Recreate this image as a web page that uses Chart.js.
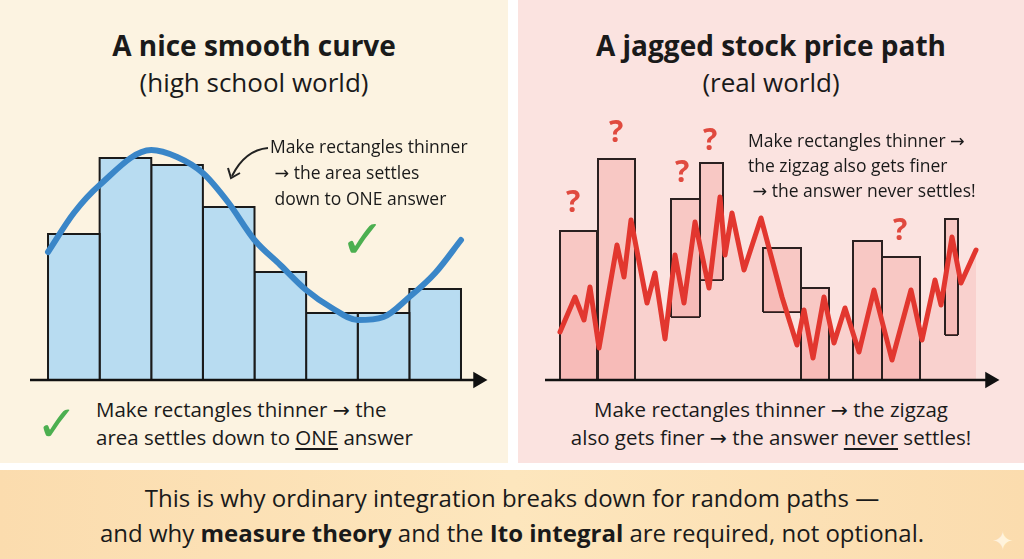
<!DOCTYPE html>
<html><head><meta charset="utf-8">
<script src="https://cdn.jsdelivr.net/npm/chart.js@4/dist/chart.umd.min.js"></script>
<style>
body{margin:0;width:1024px;height:559px;position:relative;overflow:hidden;background:#fff;font-family:"Open Sans","DejaVu Sans",sans-serif;color:#1a1a1a}
.p{position:absolute}
.t{position:absolute;white-space:nowrap}
canvas{position:absolute}
u{text-decoration-thickness:2px;text-underline-offset:3px}
</style></head><body>
<div class="p" style="left:0;top:0;width:508px;height:463px;background:#fcf3e1"></div>
<div class="p" style="left:518px;top:0;width:506px;height:463px;background:#fbe3e0"></div>
<div class="p" style="left:0;top:470px;width:1024px;height:89px;background:linear-gradient(90deg,#fbdcae,#fde6bd,#fbdcae)"></div>

<div class="t" style="left:0;width:508px;text-align:center;top:26px;font-size:28px;font-weight:700">A nice smooth curve</div>
<div class="t" style="left:0;width:508px;text-align:center;top:64px;font-size:26px">(high school world)</div>
<div class="t" style="left:518px;width:506px;text-align:center;top:26px;font-size:28px;font-weight:700">A jagged stock price path</div>
<div class="t" style="left:518px;width:506px;text-align:center;top:64px;font-size:26px">(real world)</div>

<canvas id="c1" width="460" height="262" style="left:30px;top:130px;width:460px;height:262px"></canvas>
<canvas id="c2" width="460" height="262" style="left:540px;top:130px;width:460px;height:262px"></canvas>

<div class="t" style="left:270px;top:133px;font-size:17.5px;line-height:26px">Make rectangles thinner<br>&nbsp;→ the area settles<br>&nbsp;down to ONE answer</div>
<svg class="p" style="left:220px;top:140px" width="60" height="50"><path d="M48 8 Q25 10 12 36" stroke="#222" stroke-width="2" fill="none"/><path d="M8 28 L11 38 L20 33" stroke="#222" stroke-width="2" fill="none"/></svg>
<div class="t" style="left:340px;top:208px;font-size:54px;color:#4caf50;font-weight:700;font-family:'DejaVu Sans'">✓</div>
<div class="t" style="left:36px;top:395px;font-size:50px;color:#4caf50;font-weight:700;font-family:'DejaVu Sans'">✓</div>
<div class="t" style="left:96px;top:395px;font-size:20.5px;line-height:28px">Make rectangles thinner → the<br>area settles down to <u>ONE</u> answer</div>

<div class="t" style="left:748px;top:128px;font-size:17.5px;line-height:25px">Make rectangles thinner →<br>the zigzag also gets finer<br>&nbsp;→ the answer never settles!</div>
<div class="t" style="left:518px;width:506px;text-align:center;top:395px;font-size:20.5px;line-height:28px">Make rectangles thinner → the zigzag<br>also gets finer → the answer <u>never</u> settles!</div>
<div class="t" style="left:566px;top:180px;font-size:30px;color:#e04a3f;font-weight:700">?</div>
<div class="t" style="left:609px;top:110px;font-size:30px;color:#e04a3f;font-weight:700">?</div>
<div class="t" style="left:675px;top:150px;font-size:30px;color:#e04a3f;font-weight:700">?</div>
<div class="t" style="left:703px;top:118px;font-size:30px;color:#e04a3f;font-weight:700">?</div>
<div class="t" style="left:893px;top:208px;font-size:30px;color:#e04a3f;font-weight:700">?</div>

<div class="t" style="left:0;width:1024px;text-align:center;top:480px;font-size:24px;line-height:35px">This is why ordinary integration breaks down for random paths —<br>and why <b>measure theory</b> and the <b>Ito integral</b> are required, not optional.</div>
<div class="t" style="left:992px;top:522px;font-size:26px;color:#fff3dc">✦</div>

<script>
// Left: smooth curve & Riemann rectangles (x in rectangle units, y = height)
const leftBarHeights = [146, 222, 215, 173, 108, 67, 67, 91];
const curveX = [0, 0.5, 1, 2, 2.5, 3, 3.5, 4, 4.5, 5, 5.5, 6, 6.5, 7, 7.5, 8];
const curveY = [128, 167, 195, 230, 223, 207, 177, 140, 115, 90, 72, 60, 63, 83, 107, 140];
// Right: jagged path and rectangles [x0, x1, low, high]
const pathX = [0,15,24,30,39,57,64,71,87,95,105,115,124,135,149,160,165,172,184,201,222,237,244,253,264,274,285,299,314,332,351,362,375,381,392,401,416];
const pathY = [48,83,60,93,32,135,103,160,77,107,41,125,77,158,92,183,125,167,110,162,83,35,70,22,83,37,72,28,90,20,90,40,100,75,143,97,130];
const rightRects = [[0,37,0,149],[38,75,0,221],[111,140,63,181],[140,163,100,217],[203,241,68,132],[241,269,0,92],[293,322,0,139],[322,360,0,123],[385,398,45,161]];

function rectDs(x0,x1,lo,hi,fillC,border){
  const out=[{type:'scatter',showLine:true,data:[{x:x0,y:lo},{x:x0,y:hi},{x:x1,y:hi},{x:x1,y:lo}],
    borderColor:border,borderWidth:2,backgroundColor:fillC,fill:{value:lo},pointRadius:0,tension:0,order:3,clip:false}];
  if(lo>0) out.push({type:'scatter',showLine:true,data:[{x:x0,y:lo},{x:x1,y:lo}],borderColor:border,borderWidth:2,pointRadius:0,order:3,clip:false});
  return out;
}
function axisDs(x0,x1){
  return {type:'scatter',showLine:true,data:[{x:x0,y:0},{x:x1,y:0}],borderColor:'#111',borderWidth:2.5,
    pointRadius:[0,7],pointStyle:'triangle',rotation:90,pointBackgroundColor:'#111',pointBorderColor:'#111',order:0,clip:false};
}
const baseOpts=(xmin,xmax)=>({responsive:false,animation:false,events:[],
  layout:{padding:0,autoPadding:false},plugins:{legend:{display:false},tooltip:{enabled:false}},
  scales:{x:{type:'linear',min:xmin,max:xmax,display:false},y:{min:-12,max:250,display:false}}});

const lds=[];
leftBarHeights.forEach((h,i)=>lds.push(...rectDs(i,i+1,0,h,'#b8dcf1','#1a1a1a')));
lds.push({type:'scatter',showLine:true,data:curveX.map((x,i)=>({x,y:curveY[i]})),borderColor:'#3a86c8',borderWidth:6,
  pointRadius:0,tension:0.4,cubicInterpolationMode:'monotone',order:1,borderCapStyle:'round',clip:false});
lds.push(axisDs(-0.35,8.33));
new Chart(document.getElementById('c1'),{type:'scatter',data:{datasets:lds},options:baseOpts(-0.349,8.562)});

const rds=[];
rds.push({type:'scatter',showLine:true,data:pathX.map((x,i)=>({x,y:pathY[i]})),borderColor:'rgba(0,0,0,0)',
  backgroundColor:'rgba(240,120,115,0.16)',fill:{value:0},pointRadius:0,order:6});
rightRects.forEach(r=>rds.push(...rectDs(r[0],r[1],r[2],r[3],'rgba(240,130,125,0.28)','#2a2020')));
rds.push({type:'scatter',showLine:true,data:pathX.map((x,i)=>({x,y:pathY[i]})),borderColor:'#e2372f',borderWidth:5,
  pointRadius:0,tension:0,order:1,borderJoinStyle:'round',borderCapStyle:'round',clip:false});
rds.push(axisDs(-15,430));
new Chart(document.getElementById('c2'),{type:'scatter',data:{datasets:rds},options:baseOpts(-20,440)});
</script>
</body></html>
